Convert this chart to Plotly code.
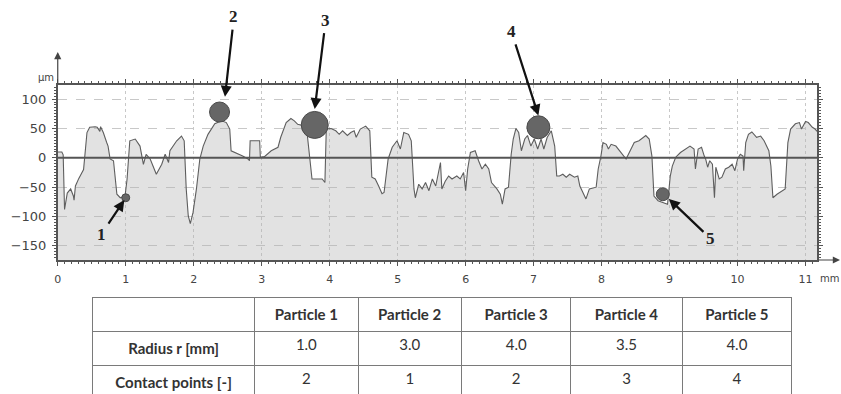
import plotly.graph_objects as go

# ---------------- data ----------------
profile_x = [0.00, 0.06, 0.08, 0.10, 0.14, 0.19, 0.23, 0.24, 0.26, 0.31, 0.38, 0.40, 0.43, 0.47, 0.55,
             0.58, 0.62, 0.63, 0.67, 0.72, 0.74, 0.77, 0.82, 0.87, 0.92, 0.99, 1.02, 1.06, 1.14, 1.21,
             1.26, 1.30, 1.36, 1.45, 1.53, 1.58, 1.63, 1.65, 1.75, 1.82, 1.86, 1.89, 1.92, 1.95, 1.99,
             2.04, 2.09, 2.14, 2.21, 2.31, 2.41, 2.48, 2.53, 2.55, 2.63, 2.72, 2.80, 2.82, 2.83, 2.97,
             2.98, 3.04, 3.14, 3.24, 3.28, 3.36, 3.43, 3.48, 3.53, 3.60, 3.67, 3.70, 3.74, 3.89, 3.93,
             3.95, 4.02, 4.09, 4.14, 4.19, 4.26, 4.31, 4.36, 4.39, 4.45, 4.53, 4.59, 4.62, 4.67, 4.72,
             4.77, 4.80, 4.83, 4.86, 4.92, 4.99, 5.04, 5.09, 5.16, 5.20, 5.24, 5.26, 5.31, 5.36, 5.41,
             5.46, 5.51, 5.56, 5.63, 5.65, 5.70, 5.75, 5.80, 5.87, 5.92, 5.97, 6.00, 6.03, 6.07, 6.14,
             6.19, 6.24, 6.29, 6.34, 6.38, 6.46, 6.51, 6.54, 6.58, 6.63, 6.67, 6.70, 6.74, 6.78, 6.82,
             6.87, 6.91, 6.96, 7.01, 7.06, 7.11, 7.15, 7.20, 7.26, 7.31, 7.34, 7.38, 7.43, 7.48, 7.53,
             7.60, 7.65, 7.68, 7.73, 7.77, 7.82, 7.92, 7.95, 7.99, 8.02, 8.07, 8.10, 8.14, 8.21, 8.29,
             8.36, 8.42, 8.48, 8.55, 8.60, 8.65, 8.70, 8.74, 8.77, 8.83, 8.97, 9.01, 9.04, 9.09, 9.16,
             9.24, 9.30, 9.36, 9.38, 9.42, 9.47, 9.51, 9.53, 9.56, 9.59, 9.63, 9.66, 9.68, 9.73, 9.77,
             9.82, 9.87, 9.92, 9.96, 10.00, 10.04, 10.08, 10.09, 10.12, 10.16, 10.21, 10.28, 10.34, 10.39, 10.46,
             10.49, 10.52, 10.58, 10.65, 10.70, 10.74, 10.78, 10.85, 10.91, 10.94, 11.00, 11.04, 11.10, 11.14, 11.17]
profile_y = [10, 10, 5, -88, -60, -53, -65, -72, -48, -35, -20, 10, 43, 52, 53,
             52, 45, 53, 43, 26, 20, -2, -5, -62, -68, -65, -36, 29, 32, 20,
             -11, 6, -2, -28, -11, 6, -8, 12, 29, 37, 29, -53, -99, -112, -93,
             -53, -2, 20, 40, 58, 63, 60, 49, 12, 8, 3, -2, -5, 29, 29,
             1, 2, 12, 18, 35, 60, 67, 63, 57, 55, 40, 10, -36, -36, -42,
             49, 50, 46, 40, 46, 38, 43, 46, 35, 49, 54, 46, -33, -36, -48,
             -61, -59, -31, -2, 18, 29, 15, 43, 40, 29, -53, -68, -45, -53, -42,
             -56, -36, -48, -8, -53, -40, -31, -36, -31, -36, -25, -56, -19, 9, 12,
             -5, -19, -11, -19, -42, -53, -62, -79, -53, -50, 6, 32, 50, 43, 12,
             32, 38, 20, 32, 15, 32, 15, 35, 46, 20, -31, -31, -28, -33, -28,
             -33, -31, -48, -59, -70, -53, -50, -19, 3, 26, 23, 15, 23, 20, 9,
             -2, 12, 26, 29, 33, 38, 32, 3, -65, -73, -79, -31, -14, 1, 9,
             15, 20, 15, -19, 15, 18, 3, -2, -16, -5, -11, -68, -16, -36, -33,
             -19, -16, -11, -22, -2, 6, 3, -22, 26, 40, 44, 35, 37, 29, 12,
             -14, -68, -62, -56, -53, 26, 49, 58, 60, 49, 62, 60, 52, 49, 45]

particle_labels = ["1", "2", "3", "4", "5"]
particle_x = [1.00, 2.38, 3.78, 7.07, 8.90]
particle_y = [-68, 78, 56, 52, -62]
particle_size = [8, 20, 27, 23, 13]
# arrow tips (data) and label offsets (px)
arrow_tip_x = [0.98, 2.46, 3.78, 7.07, 8.99]
arrow_tip_y = [-72, 104, 83, 72, -70]
label_dx = [-23, 9, 11, -27, 42]
label_dy = [34, -80, -89, -84, 40]

x_ticks = list(range(0, 12))
y_ticks = [-150, -100, -50, 0, 50, 100]
x_range = [0, 11.17]
y_range = [-174, 124]

table_header = ["", "Particle 1", "Particle 2", "Particle 3", "Particle 4", "Particle 5"]
row_labels = ["Radius r [mm]", "Contact points [-]"]
radius_vals = ["1.0", "3.0", "4.0", "3.5", "4.0"]
contact_vals = ["2", "1", "2", "3", "4"]

W, H = 841, 394
fig = go.Figure()

# fill polygon under profile
fill_x = profile_x + [profile_x[-1], profile_x[0]]
fill_y = profile_y + [y_range[0], y_range[0]]
fig.add_trace(go.Scatter(x=fill_x, y=fill_y, mode="lines", fill="toself",
                         fillcolor="rgba(180,180,180,0.38)", line=dict(width=0),
                         hoverinfo="skip", showlegend=False))
fig.add_trace(go.Scatter(x=profile_x, y=profile_y, mode="lines",
                         line=dict(color="#5e5e5e", width=1.1), showlegend=False))

# zero reference line above fill
fig.add_shape(type="line", xref="paper", yref="y", x0=54 / W, x1=817 / W, y0=0, y1=0,
              line=dict(color="#555555", width=2), layer="above")

fig.add_trace(go.Scatter(x=particle_x, y=particle_y, mode="markers",
                         marker=dict(size=particle_size, color="#666666", opacity=1,
                                     line=dict(color="#4a4a4a", width=1)),
                         showlegend=False))

# arrows + labels
for i in range(5):
    fig.add_annotation(x=arrow_tip_x[i], y=arrow_tip_y[i], xref="x", yref="y",
                       text="<b>" + particle_labels[i] + "</b>", showarrow=True,
                       ax=label_dx[i], ay=label_dy[i], arrowhead=2, arrowsize=1,
                       arrowwidth=2.2, arrowcolor="#111111", standoff=0, startstandoff=2,
                       font=dict(family="Liberation Serif", size=17, color="#222222"))

# axis arrows
fig.add_annotation(x=54 / W, y=1 - 52 / H, xref="paper", yref="paper", text="",
                   showarrow=True, ax=0, ay=33, arrowhead=2, arrowsize=1.2,
                   arrowwidth=1.2, arrowcolor="#444444")
fig.add_annotation(x=841 / W, y=1 - 260 / H, xref="paper", yref="paper", text="",
                   showarrow=True, ax=-24, ay=0, arrowhead=2, arrowsize=1.2,
                   arrowwidth=1.2, arrowcolor="#444444")
fig.add_annotation(x=32 / W, y=1 - 70 / H, xref="paper", yref="paper", text="µm",
                   showarrow=False, font=dict(family="DejaVu Sans", size=10, color="#444444"))
fig.add_annotation(x=818 / W, y=1 - 278 / H, xref="paper", yref="paper", text="mm",
                   xanchor="left", yanchor="middle",
                   showarrow=False, font=dict(family="DejaVu Sans", size=10, color="#444444"))

# table
fig.add_trace(go.Table(
    domain=dict(x=[89 / W, 792 / W], y=[0, (H - 297) / H]),
    columnwidth=[163, 104, 104, 110, 112, 110],
    header=dict(values=["<b>" + v + "</b>" if v else "" for v in table_header],
                align="center", height=32, fill_color="white",
                line=dict(color="#7a7a7a", width=1),
                font=dict(family="Lato", size=15, color="#333333")),
    cells=dict(values=[["<b>" + r + "</b>" for r in row_labels]] +
                      [[radius_vals[i], contact_vals[i]] for i in range(5)],
               align="center", height=32, fill_color="white",
               line=dict(color="#7a7a7a", width=1),
               font=dict(family="Lato", size=15, color="#333333"))))

axis_common = dict(showline=True, linecolor="#555555", linewidth=1.5, mirror="allticks",
                   ticks="outside", tickcolor="#555555", ticklen=4, tickwidth=1,
                   zeroline=False, showgrid=True, gridcolor="#c8c8c8", gridwidth=1)

fig.update_layout(
    width=W, height=H, margin=dict(l=0, r=0, t=0, b=0),
    paper_bgcolor="white", plot_bgcolor="white", showlegend=False,
    xaxis=dict(domain=[54 / W, 817 / W], range=x_range, tickvals=x_ticks,
               griddash="dot", ticklabelstandoff=4,
               tickfont=dict(family="DejaVu Sans", size=11, color="#444444"),
               minor=dict(dtick=0.1, ticks="outside", ticklen=2, tickcolor="#555555",
                          showgrid=False),
               **axis_common),
    yaxis=dict(domain=[(H - 260) / H, (H - 85) / H], range=y_range, tickvals=y_ticks,
               griddash="dash", ticklabelstandoff=3,
               tickfont=dict(family="DejaVu Sans", size=13, color="#444444"),
               minor=dict(dtick=5, ticks="outside", ticklen=2, tickcolor="#555555",
                          showgrid=False),
               **axis_common),
)

fig.write_html("out.html")
